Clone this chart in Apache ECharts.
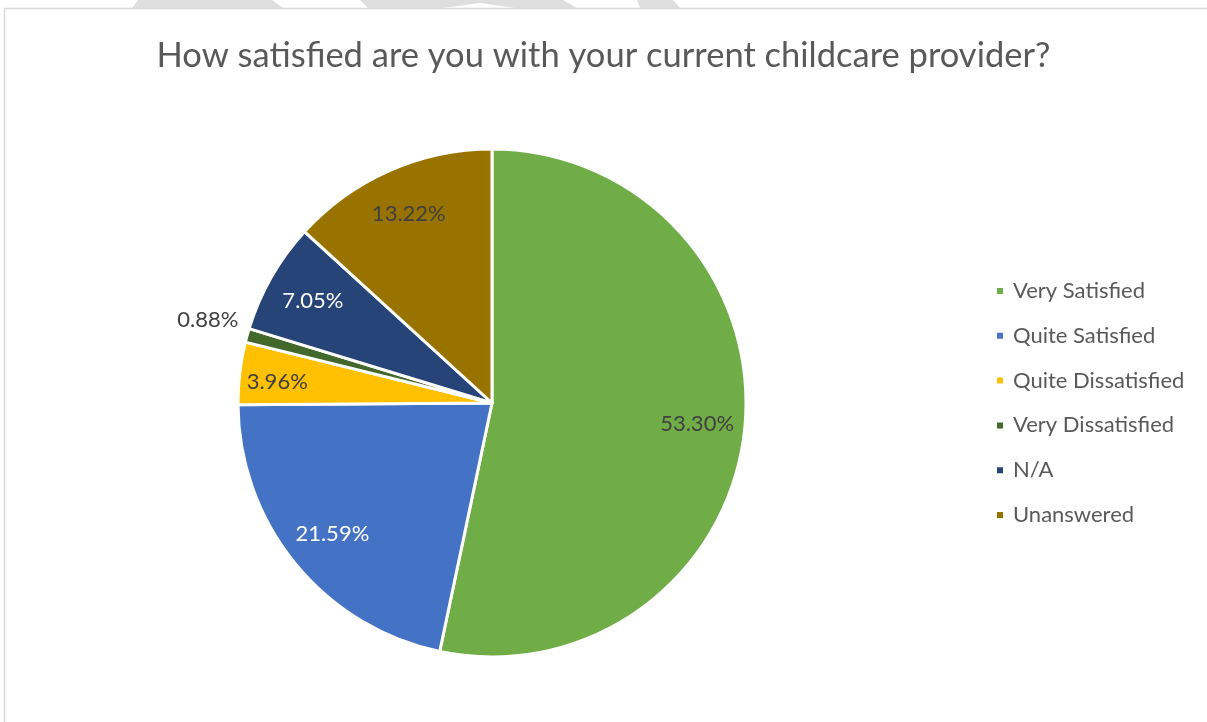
<!DOCTYPE html>
<html>
<head>
<meta charset="utf-8">
<script src="https://cdn.jsdelivr.net/npm/echarts@6/dist/echarts.min.js"></script>
<style>
html,body{margin:0;padding:0;background:#fff;}
#chart{width:1207px;height:722px;}
</style>
</head>
<body>
<div id="chart"></div>
<script>
const titleText = 'How satisfied are you with your current childcare provider?';
const categories = ['Very Satisfied', 'Quite Satisfied', 'Quite Dissatisfied', 'Very Dissatisfied', 'N/A', 'Unanswered'];
const values = [53.30, 21.59, 3.96, 0.88, 7.05, 13.22];
const colors = ['#70AD47', '#4472C4', '#FFC000', '#43682B', '#264478', '#997300'];
const labelColors = ['#404040', '#ffffff', '#404040', '#404040', '#ffffff', '#404040'];
const outsideIdx = 3;

const FONT = 'Lato, "Open Sans", sans-serif';
const chart = echarts.init(document.getElementById('chart'), null, {renderer: 'canvas'});

const R = 254;
const center = [492, 403];

const mainData = categories.map((name, i) => ({
  name: name,
  value: values[i],
  itemStyle: {color: colors[i]},
  label: i === outsideIdx ? {
    show: true, position: 'outside', color: labelColors[i],
    fontSize: 22, fontFamily: FONT,
    formatter: p => p.value.toFixed(2) + '%'
  } : {show: false},
  labelLine: {show: false, length: 4, length2: 0}
}));

const labelData = categories.map((name, i) => ({
  name: name,
  value: values[i],
  itemStyle: {color: 'rgba(0,0,0,0)', borderWidth: 0},
  label: {show: i !== outsideIdx, color: labelColors[i]}
}));

chart.setOption({
  backgroundColor: '#ffffff',
  animation: false,
  title: {
    text: titleText,
    left: 'center',
    top: 33,
    textStyle: {fontFamily: FONT, fontSize: 34.5, fontWeight: 'normal', color: '#595959'}
  },
  legend: {
    orient: 'vertical',
    left: 990,
    top: 275,
    icon: 'rect',
    itemWidth: 8,
    itemHeight: 8,
    itemGap: 22.8,
    data: categories,
    textStyle: {fontFamily: FONT, fontSize: 22, color: '#595959', padding: [0, 0, 0, 4]}
  },
  graphic: [
    {type: 'polygon', z: 0, silent: true, shape: {points: [[138,0],[272,0],[283,8],[132,8]]}, style: {fill: '#dedede'}},
    {type: 'polygon', z: 0, silent: true, shape: {points: [[360,0],[563,0],[577,8],[515,8],[480,3],[443,8],[368,8]]}, style: {fill: '#dedede'}},
    {type: 'polygon', z: 0, silent: true, shape: {points: [[637,0],[673,0],[680,8],[640,8]]}, style: {fill: '#dedede'}},
    {type: 'rect', z: 1, silent: true, shape: {x: 4.5, y: 8.5, width: 1250, height: 800}, style: {fill: 'none', stroke: '#d9d9d9', lineWidth: 1.5}}
  ],
  series: [
    {
      type: 'pie',
      name: 'main',
      center: center,
      radius: [0, R],
      startAngle: 90,
      clockwise: true,
      avoidLabelOverlap: false,
      itemStyle: {borderColor: '#ffffff', borderWidth: 3},
      emphasis: {disabled: true},
      labelLayout: function (p) {
        if (p.dataIndex === outsideIdx) return {dy: -14};
        return {};
      },
      data: mainData
    },
    {
      type: 'pie',
      name: 'labels',
      center: center,
      radius: [0, R * 1.6],
      startAngle: 90,
      clockwise: true,
      silent: true,
      avoidLabelOverlap: false,
      z: 3,
      emphasis: {disabled: true},
      label: {
        position: 'inside',
        fontSize: 22,
        fontFamily: FONT,
        formatter: p => p.value.toFixed(2) + '%'
      },
      labelLine: {show: false},
      labelLayout: function (p) {
        if (p.dataIndex === 2) return {dx: -10, dy: 3};
        return {};
      },
      data: labelData
    }
  ]
});
</script>
</body>
</html>
